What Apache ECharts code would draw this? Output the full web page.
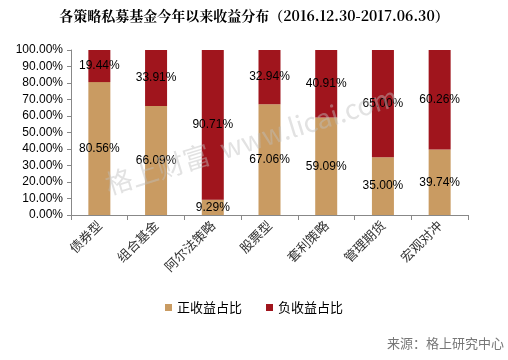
<!DOCTYPE html>
<html><head><meta charset="utf-8">
<script src="https://cdn.jsdelivr.net/npm/echarts@6/dist/echarts.min.js"></script>
<style>html,body{margin:0;padding:0;background:#fff}#c{width:508px;height:360px}</style>
</head><body><div id="c"></div>
<script>
const categories = ['债券型','组合基金','阿尔法策略','股票型','套利策略','管理期货','宏观对冲'];
const positive = [80.56, 66.09, 9.29, 67.06, 59.09, 35.00, 39.74];
const negative = [19.44, 33.91, 90.71, 32.94, 40.91, 65.00, 60.26];
const seriesNames = ['正收益占比','负收益占比'];

const chart = echarts.init(document.getElementById('c'));
const lbl = {show:true, position:'inside', color:'#000', fontSize:12, fontFamily:'Liberation Sans', formatter:p=>p.value.toFixed(2)+'%'};
chart.setOption({
  animation:false,
  title:{text:'各策略私募基金今年以来收益分布（2016.12.30-2017.06.30）', left:'center', top:4,
    textStyle:{fontSize:14, fontWeight:'bold', color:'#000', fontFamily:'Noto Serif CJK SC, Noto Sans CJK SC'}},
  graphic:[
    {type:'text', x:110, y:198, rotation:0.3, z:100,
      style:{text:'格上财富  www.licai.com', fontSize:27, fill:'rgba(190,190,190,0.45)', fontFamily:'Noto Sans CJK SC', verticalAlign:'bottom', textVerticalAlign:'bottom'}},
    {type:'text', right:4, top:337, style:{text:'来源：格上研究中心', fontSize:13, fill:'#777', fontFamily:'Noto Sans CJK SC'}}
  ],
  legend:{data:seriesNames, top:296, left:'center', itemWidth:7, itemHeight:7, itemGap:24, icon:'rect',
    textStyle:{fontSize:13, color:'#000', fontFamily:'Noto Sans CJK SC'}},
  grid:{left:71, right:40, top:50, bottom:145},
  xAxis:{type:'category', data:categories,
    axisLine:{lineStyle:{color:'#888'}}, axisTick:{show:true, alignWithLabel:false, lineStyle:{color:'#888'}, length:5},
    axisLabel:{rotate:45, interval:0, fontSize:13, color:'#333', fontFamily:'Noto Sans CJK SC', margin:8}},
  yAxis:{type:'value', min:0, max:100, interval:10,
    axisLine:{show:true, lineStyle:{color:'#888'}}, axisTick:{show:true, inside:false, length:4, lineStyle:{color:'#888'}},
    splitLine:{show:false},
    axisLabel:{fontSize:12, color:'#000', fontFamily:'Liberation Sans', margin:8, formatter:v=>v.toFixed(2)+'%'}},
  series:[
    {name:seriesNames[0], type:'bar', stack:'a', barWidth:22, data:positive, itemStyle:{color:'#C99B62'}, label:lbl},
    {name:seriesNames[1], type:'bar', stack:'a', barWidth:22, data:negative, itemStyle:{color:'#A0151D'}, label:lbl}
  ]
});
</script></body></html>
